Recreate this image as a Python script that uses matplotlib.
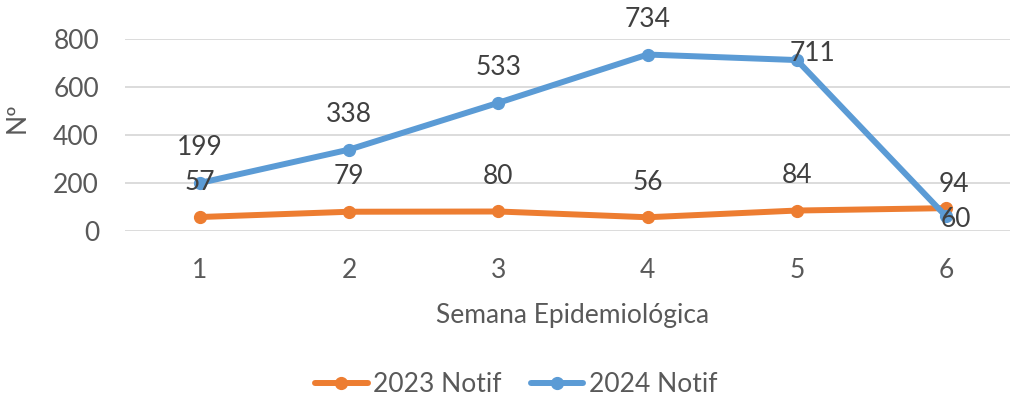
import matplotlib.pyplot as plt

semanas = [1, 2, 3, 4, 5, 6]
notif_2023 = [57, 79, 80, 56, 84, 94]
notif_2024 = [199, 338, 533, 734, 711, 60]

orange = "#ED7D31"
blue = "#5B9BD5"
gray = "#595959"
plt.rcParams["font.family"] = ["Lato", "DejaVu Sans"]
fs = 19

dpi = 100
fig = plt.figure(figsize=(10.10, 4.03), dpi=dpi)
ax = fig.add_axes([125.4 / 1010, 1 - 230.7 / 403, (1020.6 - 125.4) / 1010, 192.0 / 403])

ax.plot(semanas, notif_2023, color=orange, lw=4.3, marker="o", ms=8.5,
        label="2023 Notif", solid_capstyle="round", zorder=3)
ax.plot(semanas, notif_2024, color=blue, lw=4.3, marker="o", ms=8.5,
        label="2024 Notif", solid_capstyle="round", zorder=4)

# label offsets in pixels (dx, dy up); default is above the point
px = 72 / dpi
off_2023 = {6: (8, 24)}
off_2024 = {5: (16, 7), 6: (10, -3)}
for vals, offs in ((notif_2023, off_2023), (notif_2024, off_2024)):
    for s, v in zip(semanas, vals):
        dx, dy = offs.get(s, (0, 35))
        ax.annotate(str(v), (s, v), xytext=(dx * px, dy * px), textcoords="offset points",
                    ha="center", va="center", fontsize=fs, color="#404040", zorder=5)

ax.set_xlim(0.5, 6.5)
ax.set_ylim(0, 800)
ax.set_yticks(range(0, 801, 200))
ax.set_xticks(semanas)
ax.grid(axis="y", color="#D9D9D9", lw=1.3)
ax.set_axisbelow(True)
for sp in ax.spines.values():
    sp.set_visible(False)
ax.tick_params(length=0, labelsize=fs, labelcolor=gray)
ax.tick_params(axis="y", pad=19)
ax.tick_params(axis="x", pad=20)
ax.set_xlabel("Semana Epidemiológica", fontsize=fs, color=gray, labelpad=14)
ax.set_ylabel("Nº", fontsize=fs, color=gray)
ax.yaxis.set_label_coords(-0.1066, 0.59)

fig.legend(loc="center", bbox_to_anchor=(516 / 1010, 1 - 385 / 403), ncol=2, frameon=False,
           fontsize=fs, labelcolor=gray, handlelength=2.0, columnspacing=1.1, handletextpad=0.2)

fig.savefig("out.png", dpi=dpi)
